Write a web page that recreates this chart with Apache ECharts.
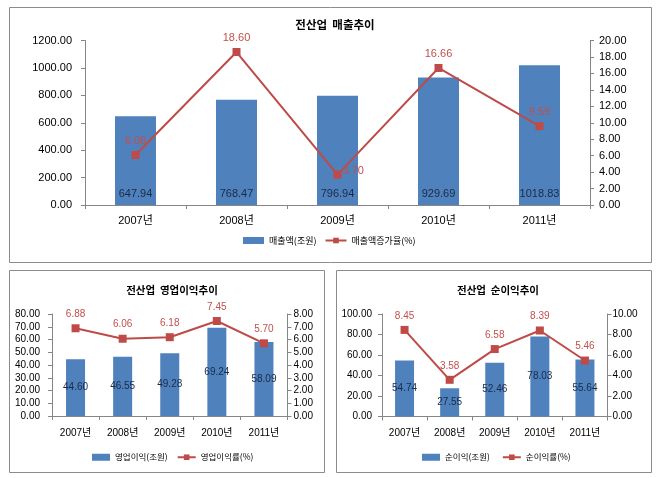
<!DOCTYPE html>
<html>
<head>
<meta charset="utf-8">
<script src="https://cdn.jsdelivr.net/npm/echarts@6/dist/echarts.min.js"></script>
<style>
html,body{margin:0;padding:0;background:#fff;}
#c{width:659px;height:478px;}
</style>
</head>
<body>
<div id="c"></div>
<script>
const categories = ['2007년', '2008년', '2009년', '2010년', '2011년'];

const salesTitle = '전산업  매출추이';
const salesBarName = '매출액(조원)';
const salesLineName = '매출액증가율(%)';
const salesBar = [647.94, 768.47, 796.94, 929.69, 1018.83];
const salesLine = [6.08, 18.60, 3.70, 16.66, 9.59];

const opTitle = '전산업  영업이익추이';
const opBarName = '영업이익(조원)';
const opLineName = '영업이익률(%)';
const opBar = [44.60, 46.55, 49.28, 69.24, 58.09];
const opLine = [6.88, 6.06, 6.18, 7.45, 5.70];

const netTitle = '전산업  순이익추이';
const netBarName = '순이익(조원)';
const netLineName = '순이익률(%)';
const netBar = [54.74, 27.55, 52.46, 78.03, 55.64];
const netLine = [8.45, 3.58, 6.58, 8.39, 5.46];

const FONT = '"Liberation Sans", Arial, "Noto Sans CJK KR", sans-serif';
const KFONT = '"Noto Sans CJK KR", "Liberation Sans", sans-serif';
const BAR = '#4F81BD';
const LINE = '#BE4B48';
const AXIS = '#868686';

function xAx(gi, fs, margin) {
  return {
    type: 'category', gridIndex: gi, data: categories, boundaryGap: true,
    axisLine: {lineStyle: {color: AXIS}},
    axisTick: {show: true, lineStyle: {color: AXIS}, length: 4},
    axisLabel: {color: '#000', fontFamily: FONT, fontSize: fs, margin: margin, interval: 0}
  };
}
function yAx(gi, max, interval, right, fs, margin) {
  return {
    type: 'value', gridIndex: gi, min: 0, max: max, interval: interval,
    position: right ? 'right' : 'left',
    splitLine: {show: false},
    axisLine: {show: true, lineStyle: {color: AXIS}},
    axisTick: {show: true, lineStyle: {color: AXIS}, length: 4},
    axisLabel: {color: '#000', fontFamily: FONT, fontSize: fs, margin: margin,
      formatter: v => v.toFixed(2)}
  };
}
function barSeries(name, data, gi, fs, pos, bw) {
  return {
    name: name, type: 'bar', xAxisIndex: gi, yAxisIndex: gi * 2, data: data,
    barWidth: bw, itemStyle: {color: BAR},
    label: {show: true, position: pos, distance: 6, color: '#1B2A47',
      fontFamily: FONT, fontSize: fs, formatter: p => p.value.toFixed(2)},
    z: 2
  };
}
function lineSeries(name, data, gi, fs, sym, specialRight) {
  return {
    name: name, type: 'line', xAxisIndex: gi, yAxisIndex: gi * 2 + 1,
    data: data.map((v, i) => (specialRight && specialRight.includes(i)) ?
      {value: v, label: {position: 'right', distance: 1, offset: [0, -4]}} : v),
    symbol: 'rect', symbolSize: sym,
    lineStyle: {color: LINE, width: 2},
    itemStyle: {color: LINE},
    label: {show: true, position: 'top', distance: 5, color: '#C0504D',
      fontFamily: FONT, fontSize: fs, formatter: p => p.value.toFixed(2)},
    z: 3
  };
}

const chart = echarts.init(document.getElementById('c'), null, {renderer: 'canvas'});
chart.setOption({
  animation: false,
  backgroundColor: '#fff',
  graphic: [
    {type: 'rect', shape: {x: 9.5, y: 7.5, width: 642, height: 255}, style: {fill: 'none', stroke: '#8c8c8c', lineWidth: 1}, z: -1},
    {type: 'rect', shape: {x: 9.5, y: 270.5, width: 315, height: 202}, style: {fill: 'none', stroke: '#8c8c8c', lineWidth: 1}, z: -1},
    {type: 'rect', shape: {x: 336.5, y: 270.5, width: 315, height: 202}, style: {fill: 'none', stroke: '#8c8c8c', lineWidth: 1}, z: -1}
  ],
  title: [
    {text: salesTitle, left: 330, top: 14, textAlign: 'center',
      textStyle: {fontFamily: KFONT, fontSize: 11.5, fontWeight: 'bold', color: '#000'}},
    {text: opTitle, left: 167, top: 280, textAlign: 'center',
      textStyle: {fontFamily: KFONT, fontSize: 10.5, fontWeight: 'bold', color: '#000'}},
    {text: netTitle, left: 493, top: 280, textAlign: 'center',
      textStyle: {fontFamily: KFONT, fontSize: 10.5, fontWeight: 'bold', color: '#000'}}
  ],
  legend: [
    {data: [{name: salesBarName, icon: 'rect'}, {name: salesLineName}], left: 238, top: 231,
      itemWidth: 21, itemHeight: 7, itemGap: 8,
      textStyle: {fontFamily: KFONT, fontSize: 9, color: '#000'}},
    {data: [{name: opBarName, icon: 'rect'}, {name: opLineName}], left: 87, top: 448,
      itemWidth: 18, itemHeight: 7, itemGap: 9,
      textStyle: {fontFamily: KFONT, fontSize: 8.5, color: '#000'}},
    {data: [{name: netBarName, icon: 'rect'}, {name: netLineName}], left: 417, top: 448,
      itemWidth: 18, itemHeight: 7, itemGap: 12,
      textStyle: {fontFamily: KFONT, fontSize: 8.5, color: '#000'}}
  ],
  grid: [
    {left: 85, right: 69, top: 40.5, bottom: 273},
    {left: 52, right: 371.5, top: 314, bottom: 62},
    {left: 382, right: 51.5, top: 314, bottom: 61.5}
  ],
  xAxis: [xAx(0, 11, 10), xAx(1, 10, 12), xAx(2, 10, 12)],
  yAxis: [
    yAx(0, 1200, 200, false, 11, 13), yAx(0, 20, 2, true, 11, 9),
    yAx(1, 80, 10, false, 10, 12), yAx(1, 8, 1, true, 10, 6),
    yAx(2, 100, 20, false, 10, 10), yAx(2, 10, 2, true, 10, 5)
  ],
  series: [
    barSeries(salesBarName, salesBar, 0, 11, 'insideBottom', 41),
    lineSeries(salesLineName, salesLine, 0, 11, 8, [2]),
    barSeries(opBarName, opBar, 1, 10, 'inside', 19),
    lineSeries(opLineName, opLine, 1, 10, 8, null),
    barSeries(netBarName, netBar, 2, 10, 'inside', 19),
    lineSeries(netLineName, netLine, 2, 10, 8, null)
  ]
});
</script>
</body>
</html>
